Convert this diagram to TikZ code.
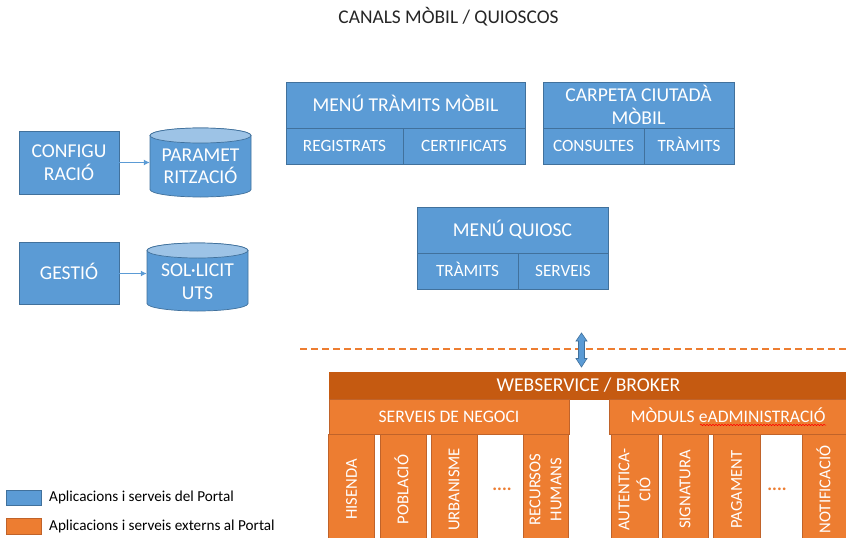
\documentclass[tikz,border=0pt]{standalone}
\usepackage{fontspec}
\setmainfont{Carlito}
\usetikzlibrary{arrows.meta,decorations.pathmorphing}
\definecolor{blu}{HTML}{5B9BD5}
\definecolor{bluedk}{HTML}{41719C}
\definecolor{blult}{HTML}{9DC3E6}
\definecolor{org}{HTML}{ED7D31}
\definecolor{orgdk}{HTML}{C55A11}
\definecolor{orgline}{HTML}{C0632A}
\definecolor{txtdk}{HTML}{262626}
\begin{document}
\begin{tikzpicture}[x=1pt,y=-1pt,
  bbox/.style={draw=bluedk, fill=blu, line width=0.7pt, text=white, inner sep=0pt, align=center},
  big/.style={font=\fontsize{19.6}{22.5}\selectfont},
  small/.style={font=\fontsize{17.2}{19}\selectfont, text height=11.1pt, text depth=0pt},
  capb/.style={text height=12.6pt, text depth=0pt},
  obox/.style={draw=orgline, fill=org, line width=0.7pt, text=white, inner sep=0pt, align=center},
  col/.style={obox, rotate=90, minimum width=111, minimum height=46, font=\fontsize{16.6}{21}\selectfont},
  capc/.style={text height=10.7pt, text depth=0pt},
  cyl/.style={draw=bluedk, fill=blu, line width=0.7pt},
  cyltop/.style={draw=bluedk, fill=blult, line width=0.7pt},
  link/.style={draw=blu, line width=1.5pt, -{Latex[length=6pt,width=6pt]}},
  dots/.style={text=org, font=\fontsize{18}{20}\selectfont\bfseries, anchor=base},
  legtext/.style={text=black, font=\fontsize{15.2}{16}\selectfont, anchor=west, inner sep=0pt},
]
\useasboundingbox (0,0) rectangle (846,538);
\fill[white] (0,0) rectangle (846,538);
\clip (0,0) rectangle (846,538);

% title
\node[font=\fontsize{19.4}{22}\selectfont, text=txtdk] (title) at (448.5,17) {CANALS MÒBIL / QUIOSCOS};

% left: configuracio
\node[bbox, big, minimum width=100, minimum height=63] (conf) at (69,162.5) {CONFIGU\\RACIÓ};
\path[cyl] (150,135.5) -- (150,189.5) arc[start angle=180, end angle=360, x radius=50.5pt, y radius=7.5pt] -- (251,135.5) arc[start angle=0, end angle=180, x radius=50.5pt, y radius=7.5pt] -- cycle;
\path[cyltop] (200.5,135.5) ellipse [x radius=50.5pt, y radius=7.5pt];
\node[big, text=white, align=center, minimum width=101, minimum height=54, inner sep=0pt] (param) at (200.5,166.5) {PARAMET\\RITZACIÓ};
\draw[link] (conf.east) -- (conf.east -| param.west);

% gestio
\node[bbox, big, capb, minimum width=100, minimum height=62] (gest) at (69,273.5) {GESTIÓ};
\path[cyl] (147,250.5) -- (147,303.5) arc[start angle=180, end angle=360, x radius=50.5pt, y radius=7.5pt] -- (248,250.5) arc[start angle=0, end angle=180, x radius=50.5pt, y radius=7.5pt] -- cycle;
\path[cyltop] (197.5,250.5) ellipse [x radius=50.5pt, y radius=7.5pt];
\node[big, text=white, align=center, minimum width=101, minimum height=53, inner sep=0pt] (soli) at (197.5,281.5) {SOL·LICIT\\UTS};
\draw[link] (gest.east) -- (gest.east -| soli.west);

% menu tramits mobil
\node[bbox, big, capb, minimum width=239, minimum height=46] (mtm) at (405.5,105) {MENÚ TRÀMITS MÒBIL};
\node[bbox, small, minimum width=117, minimum height=36] (reg) at (344.5,146) {REGISTRATS};
\node[bbox, small, minimum width=122, minimum height=36] (cert) at (464,146) {CERTIFICATS};

% carpeta ciutada
\node[bbox, big, minimum width=191, minimum height=46] (carp) at (638.5,105) {CARPETA CIUTADÀ\\MÒBIL};
\node[bbox, small, minimum width=101, minimum height=36] (cons) at (593.5,146) {CONSULTES};
\node[bbox, small, minimum width=90, minimum height=36] (tram1) at (689,146) {TRÀMITS};

% menu quiosc
\node[bbox, big, capb, minimum width=191, minimum height=46] (mq) at (512.5,230) {MENÚ QUIOSC};
\node[bbox, small, minimum width=101, minimum height=36] (tram2) at (467.5,271) {TRÀMITS};
\node[bbox, small, minimum width=90, minimum height=36] (serv) at (563,271) {SERVEIS};

% dashed separator
\coordinate (dashL) at (300,349);
\coordinate (dashR) at (846,349);
\draw[org, line width=1.4pt, dash pattern=on 7pt off 4pt] (dashL) -- (dashR);

% double arrow
\coordinate (da) at (581.5,333);
\path[draw=bluedk, fill=blu, line width=0.6pt]
  (da) -- ++(5.5,8) -- ++(-2.5,0) -- ++(0,17.5) -- ++(2.5,0) -- ++(-5.5,8.5)
  -- ++(-5.5,-8.5) -- ++(2.5,0) -- ++(0,-17.5) -- ++(-2.5,0) -- cycle;

% webservice
\node[obox, fill=orgdk, draw=orgdk, big, capb, minimum width=519, minimum height=27] (ws) at (588.5,385.5) {WEBSERVICE / BROKER};
\node[obox, font=\fontsize{17.6}{20}\selectfont, text height=11.3pt, text depth=0pt, minimum width=240, minimum height=35] (sn) at (449,416.5) {SERVEIS DE NEGOCI};
\node[obox, font=\fontsize{17.6}{20}\selectfont, text height=11.3pt, text depth=0pt, minimum width=238, minimum height=35] (me) at (728,416.5) {MÒDULS eADMINISTRACIÓ};
\draw[red, line width=0.5pt, decorate, decoration={snake, amplitude=0.7pt, segment length=3pt}] (700,425) -- (826,425);

% columns
\node[col, capc] (his) at (351.5,489.5) {HISENDA};
\node[col, capc] (pob) at (403,489.5) {POBLACIÓ};
\node[col, capc] (urb) at (454,489.5) {URBANISME};
\node[dots] (d1) at (502,490) {....};
\node[col, minimum height=45] (rh) at (545.5,489.5) {RECURSOS\\HUMANS};
\node[col, minimum height=47] (aut) at (634.5,489.5) {AUTENTICA-\\CIÓ};
\node[col, capc] (sig) at (685,489.5) {SIGNATURA};
\node[col, capc, minimum height=47] (pag) at (736.5,489.5) {PAGAMENT};
\node[dots] (d2) at (777,490) {....};
\node[col, capc] (notif) at (825,489.5) {NOTIFICACIÓ};

% legend
\node[bbox, minimum width=35, minimum height=15] (lb) at (23.5,497.5) {};
\node[obox, minimum width=35, minimum height=16] (lo) at (23.5,526) {};
\node[legtext] (lbt) at (49,497.5) {Aplicacions i serveis del Portal};
\node[legtext] (lot) at (49,526) {Aplicacions i serveis externs al Portal};
\end{tikzpicture}
\end{document}
